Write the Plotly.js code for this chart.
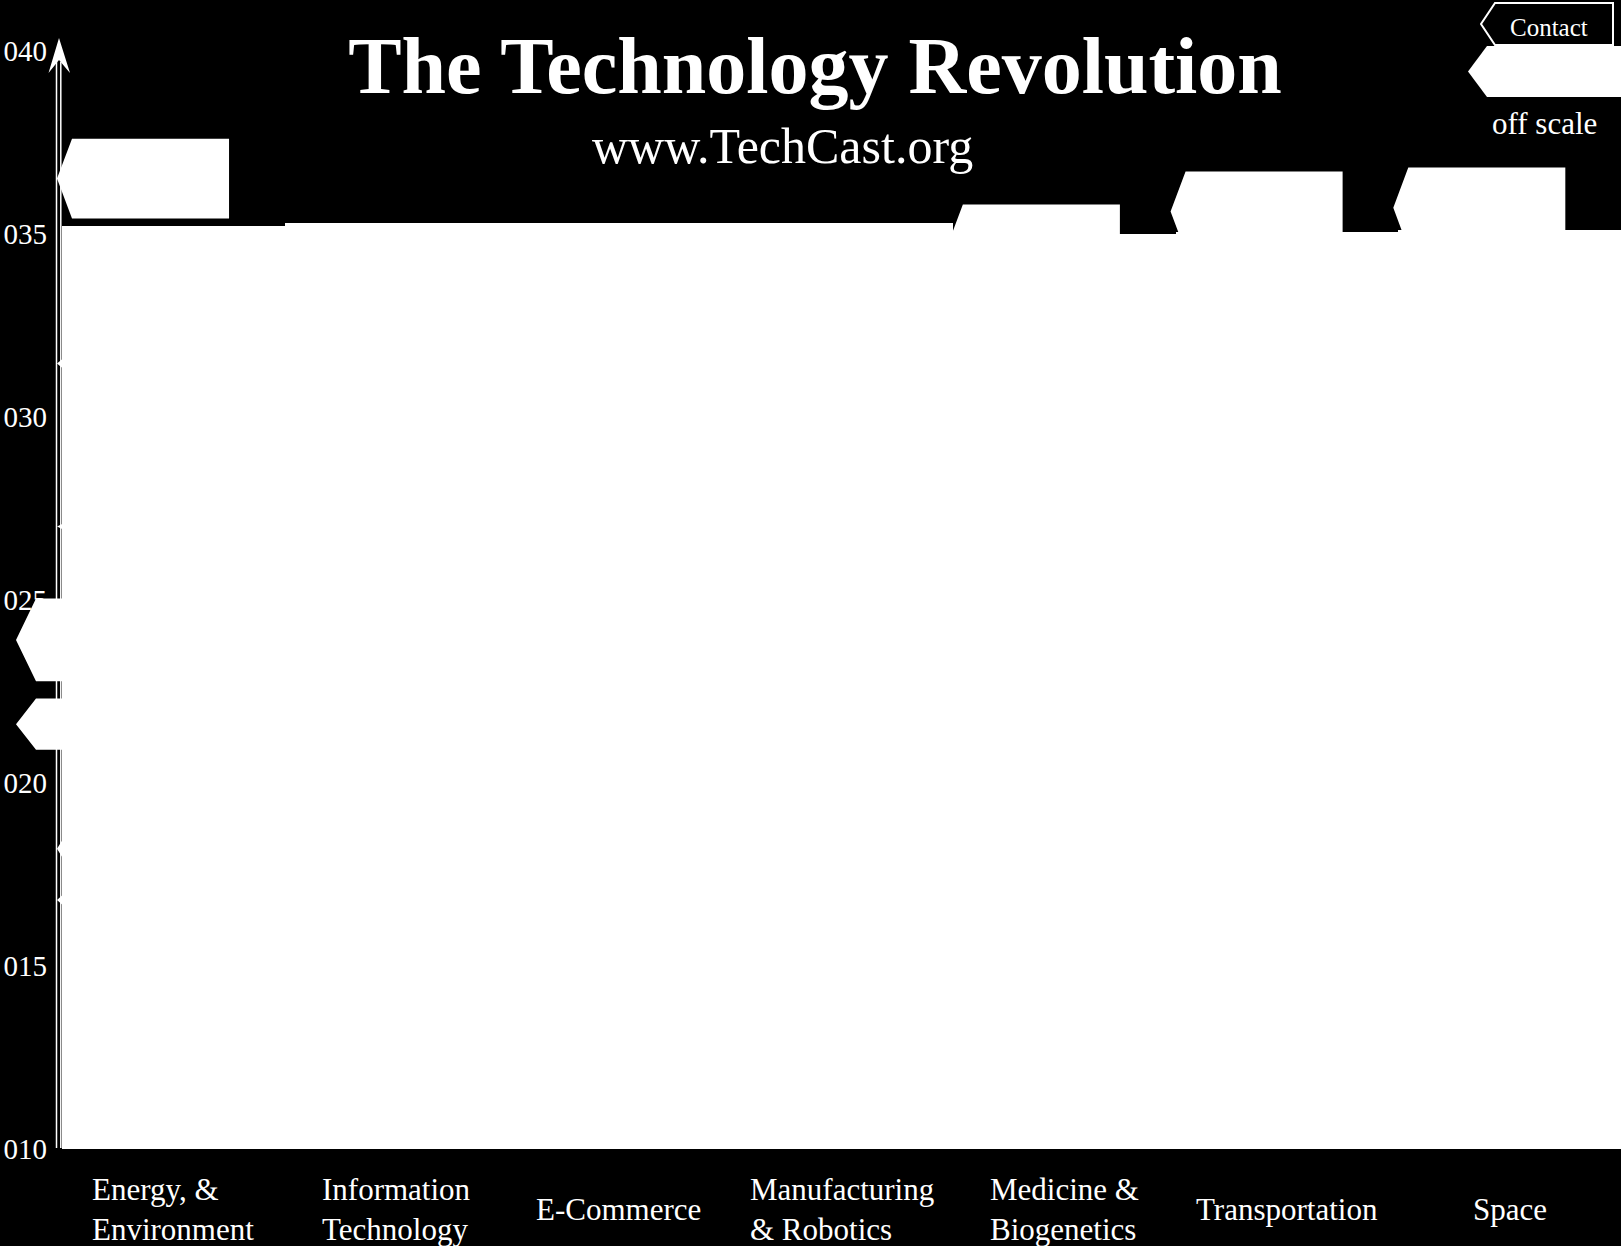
<!DOCTYPE html>
<html>
<head>
<meta charset="utf-8">
<script src="https://cdn.plot.ly/plotly-3.0.1.min.js"></script>
<style>
  html, body { margin: 0; padding: 0; background: #000; }
  #chart { width: 1621px; height: 1246px; }
</style>
</head>
<body>
<div id="chart"></div>
<script>
// fields (columns) of the forecast chart
var fields = ['Energy, &<br>Environment', 'Information<br>Technology', 'E-Commerce',
              'Manufacturing<br>& Robotics', 'Medicine &<br>Biogenetics', 'Transportation', 'Space'];
// top of each white column, in years
var columnTop = [2035.2, 2035.3, 2035.3, 2035.3, 2035.0, 2035.05, 2035.1];

// forecast tags sitting inside a column: field index, centre year, half height in years
var tagField = [0, 0, 0, 0, 0, 4, 5, 6];
var tagYear  = [2036.5, 2031.45, 2027.0, 2018.2, 2016.8, 2034.7, 2035.6, 2035.7];
var tagHalf  = [1.09, 0.34, 0.2, 0.66, 0.37, 1.09, 1.09, 1.1];

// tags that hang out past the year axis on the left
var edgeTagYear = [2023.9, 2021.6];
var edgeTagHalf = [1.13, 0.7];

// y axis ticks
var tickYears = [2010, 2015, 2020, 2025, 2030, 2035, 2040];
var tickText  = ['010', '015', '020', '025', '030', '035', '040'];

var W = 1621, H = 1246;
var PLOT_BOTTOM = 1149;           // pixel row of 2010
var AXIS_X = 62;                  // pixel column where the first field starts
var PX_PER_YEAR = 36.62;
var COL_PX = (W - AXIS_X) / fields.length;
var SERIF = 'Liberation Serif, Times New Roman, serif';

function px(x) { return x / W; }
function py(y) { return 1 - y / PLOT_BOTTOM; }

// left-pointing tag outline, built from the field index and the year
function tagTrace(cats, years, halves, tip, left, right) {
  var xs = [], ys = [];
  for (var i = 0; i < years.length; i++) {
    var L = cats[i] - 0.5;
    var y = years[i], h = halves[i];
    xs.push(L + left, L + right, L + right, L + left, L + tip, L + left, null);
    ys.push(y + h, y + h, y - h, y - h, y, y + h, null);
  }
  return {
    type: 'scatter', mode: 'lines', x: xs, y: ys,
    fill: 'toself', fillcolor: '#fff', line: {width: 0, color: '#fff'},
    hoverinfo: 'skip'
  };
}

var columns = {
  type: 'bar',
  x: fields.map(function(f, i) { return i; }),
  y: columnTop.map(function(t) { return t - 2010; }),
  base: 2010,
  width: 1,
  marker: {color: '#fff', line: {width: 0}},
  hoverinfo: 'skip'
};

var inner = tagTrace(tagField, tagYear, tagHalf, -5 / COL_PX, 10 / COL_PX, 0.75);
var edge = tagTrace(edgeTagYear.map(function() { return 0; }), edgeTagYear, edgeTagHalf,
                    -46 / COL_PX, -26 / COL_PX, 0.5);

var annotations = fields.map(function(f, i) {
  return {
    xref: 'x', yref: 'paper', x: i, y: 0, yshift: -60,
    xanchor: 'center', yanchor: 'middle', align: 'left',
    text: f, showarrow: false,
    font: {family: SERIF, size: 31, color: '#fff'}
  };
});
annotations.push(
  {xref: 'paper', yref: 'paper', x: px(782), y: py(146), xanchor: 'center', yanchor: 'middle',
   text: 'www.TechCast.org', showarrow: false, font: {family: SERIF, size: 50, color: '#fff'}},
  {xref: 'paper', yref: 'paper', x: px(1544), y: py(124), xanchor: 'center', yanchor: 'middle',
   text: 'off scale', showarrow: false, font: {family: SERIF, size: 31, color: '#fff'}},
  {xref: 'paper', yref: 'paper', x: px(1549), y: py(27), xanchor: 'center', yanchor: 'middle',
   text: 'Contact', showarrow: false, font: {family: SERIF, size: 25, color: '#fff'}}
);

function path(pts) {
  return 'M' + pts.map(function(p) { return px(p[0]) + ',' + py(p[1]); }).join('L') + 'Z';
}

var shapes = [
  // double axis line and arrow head
  {type: 'line', xref: 'paper', yref: 'paper', x0: px(56.5), x1: px(56.5), y0: py(1148), y1: py(62),
   line: {color: '#fff', width: 1.5}, layer: 'below'},
  {type: 'line', xref: 'paper', yref: 'paper', x0: px(60.8), x1: px(60.8), y0: py(1148), y1: py(62),
   line: {color: '#fff', width: 1.5}, layer: 'below'},
  {type: 'path', xref: 'paper', yref: 'paper', layer: 'below',
   path: path([[59, 38], [70, 73], [59, 60], [48.5, 73]]),
   fillcolor: '#fff', line: {width: 0}},
  // Contact button
  {type: 'path', xref: 'paper', yref: 'paper', layer: 'below',
   path: path([[1495, 3], [1613, 3], [1613, 45], [1495, 45], [1481, 24]]),
   fillcolor: '#000', line: {color: '#fff', width: 2}},
  // off scale key
  {type: 'path', xref: 'paper', yref: 'paper', layer: 'below',
   path: path([[1487, 46], [1625, 46], [1625, 97], [1487, 97], [1468, 71.5]]),
   fillcolor: '#fff', line: {width: 0}}
];

var layout = {
  width: W, height: H,
  margin: {l: 0, r: 0, t: 0, b: H - PLOT_BOTTOM, pad: 0},
  paper_bgcolor: '#000',
  plot_bgcolor: 'rgba(0,0,0,0)',
  showlegend: false,
  bargap: 0,
  hovermode: false,
  title: {
    text: '<b>The Technology Revolution</b>',
    font: {family: SERIF, size: 80, color: '#fff'},
    x: px(815), xanchor: 'center', xref: 'paper',
    y: 1 - 37 / H, yanchor: 'top', yref: 'container'
  },
  xaxis: {
    range: [-0.5 - AXIS_X / COL_PX, fields.length - 0.5],
    showgrid: false, zeroline: false, showline: false, showticklabels: false, ticks: ''
  },
  yaxis: {
    range: [2010, 2010 + PLOT_BOTTOM / PX_PER_YEAR],
    anchor: 'free', position: px(AXIS_X - 1), side: 'left',
    tickvals: tickYears, ticktext: tickText,
    ticks: '', ticklabelstandoff: 14,
    tickfont: {family: SERIF, size: 29, color: '#fff'},
    showgrid: false, zeroline: false, showline: false,
    layer: 'below traces'
  },
  shapes: shapes,
  annotations: annotations
};

Plotly.newPlot('chart', [columns, edge, inner], layout, {staticPlot: true});
</script>
</body>
</html>
